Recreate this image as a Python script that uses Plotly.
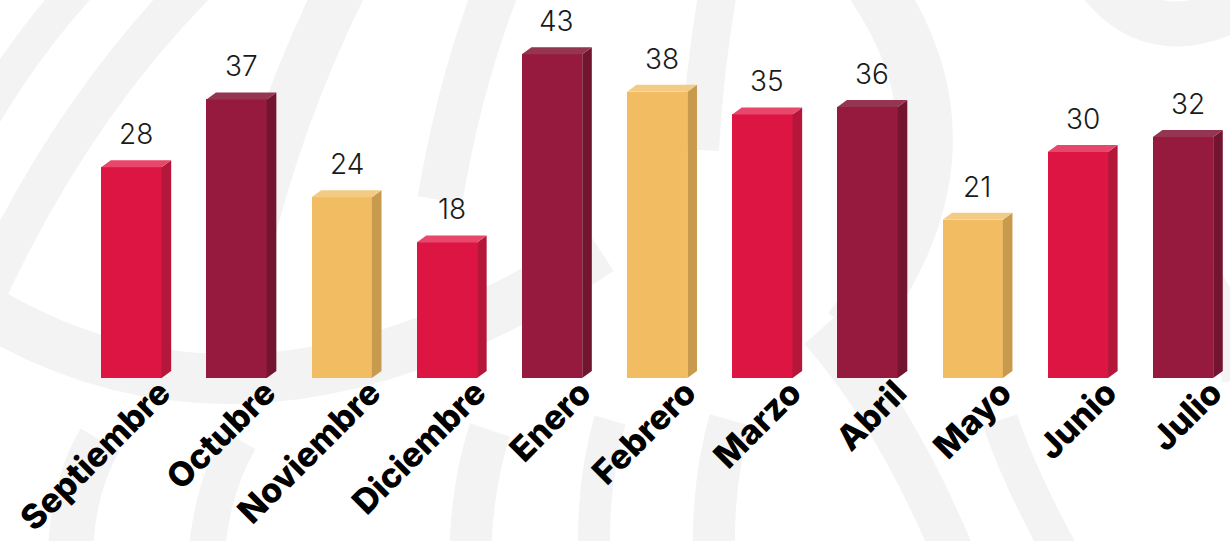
import plotly.graph_objects as go

# ---------------- data ----------------
months = ["Septiembre", "Octubre", "Noviembre", "Diciembre", "Enero", "Febrero",
          "Marzo", "Abril", "Mayo", "Junio", "Julio"]
values = [28, 37, 24, 18, 43, 38, 35, 36, 21, 30, 32]
color_keys = ["red", "maroon", "gold", "red", "maroon", "gold",
              "red", "maroon", "gold", "red", "maroon"]

# ---------------- style ----------------
FRONT = {"red": "#DC1543", "maroon": "#961A3D", "gold": "#F2BC62"}
SIDE = {"red": "#B5173A", "maroon": "#731430", "gold": "#C89A4E"}
TOP = {"red": "#E8466A", "maroon": "#953552", "gold": "#F4CB85"}

W, H = 1230, 541
PLOT_H = 378
PX_PER_CAT = 105.16
PX_PER_UNIT = 7.53
X0_PX = 131.4
BAR_W = 0.574
DX = 9.6 / PX_PER_CAT      # depth offset (category units)
DY = 7.0 / PX_PER_UNIT     # depth offset (value units)

x = list(range(len(months)))

fig = go.Figure()

# front faces
fig.add_trace(go.Bar(
    x=x, y=values, width=BAR_W,
    marker=dict(color=[FRONT[c] for c in color_keys], line=dict(width=0)),
    hoverinfo="skip", showlegend=False,
))

# side + top faces (polygons built from the data through the axes)
for key in ["red", "maroon", "gold"]:
    sx, sy, tx, ty = [], [], [], []
    for xi, v, c in zip(x, values, color_keys):
        if c != key:
            continue
        r = xi + BAR_W / 2
        l = xi - BAR_W / 2
        sx += [r, r + DX, r + DX, r, r, None]
        sy += [0, DY, v + DY, v, 0, None]
        tx += [l, l + DX, r + DX, r, l, None]
        ty += [v, v + DY, v + DY, v, v, None]
    fig.add_trace(go.Scatter(x=sx, y=sy, mode="lines", fill="toself",
                             fillcolor=SIDE[key], line=dict(width=0),
                             hoverinfo="skip", showlegend=False))
    fig.add_trace(go.Scatter(x=tx, y=ty, mode="lines", fill="toself",
                             fillcolor=TOP[key], line=dict(width=0),
                             hoverinfo="skip", showlegend=False))

# value labels
for xi, v in zip(x, values):
    fig.add_annotation(x=xi + DX / 2, y=v, text=str(v), showarrow=False,
                       xanchor="center", yanchor="bottom", yshift=14,
                       font=dict(family="Inter", size=28, color="#1a1a1a", weight=300))

# decorative light-grey background strokes (pixel coords -> paper)
def P(px, py):
    return f"{px / W:.4f},{1 - py / PLOT_H:.4f}"

strokes = [
    (("M", (-30, 140)), ("Q", (20, 50), (85, -20)), 34),
    (("M", (-30, 330)), ("Q", (60, 120), (200, -20)), 40),
    (("M", (230, 330)), ("Q", (260, 150), (345, -20)), 50),
    (("M", (440, 200)), ("Q", (460, 80), (500, -20)), 45),
    (("M", (700, 150)), ("Q", (705, 60), (720, -20)), 38),
    (("M", (850, 330)), ("Q", (990, 150), (870, -20)), 55),
    (("M", (1090, -30)), ("Q", (1150, 60), (1250, 0)), 45),
    (("M", (-30, 300)), ("Q", (250, 480), (600, 250)), 50),
    (("M", (100, 440)), ("Q", (70, 490), (70, 570)), 45),
    (("M", (240, 440)), ("Q", (210, 490), (205, 570)), 36),
    (("M", (490, 430)), ("Q", (470, 490), (470, 570)), 42),
    (("M", (610, 420)), ("Q", (590, 490), (595, 570)), 32),
    (("M", (730, 420)), ("Q", (710, 490), (715, 570)), 42),
    (("M", (820, 330)), ("Q", (900, 420), (960, 570)), 42),
    (("M", (1000, 420)), ("Q", (1020, 480), (1070, 570)), 36),
    (("M", (1180, 250)), ("Q", (1230, 300), (1240, 380)), 36),
]
for m, q, wdt in strokes:
    path = f"M {P(*m[1])} Q {P(*q[1])} {P(*q[2])}"
    fig.add_shape(type="path", path=path, xref="paper", yref="paper",
                  line=dict(color="#F3F3F3", width=wdt), layer="below")

fig.update_layout(
    width=W, height=H,
    margin=dict(l=0, r=0, t=0, b=H - PLOT_H, pad=0, autoexpand=False),
    paper_bgcolor="white", plot_bgcolor="rgba(0,0,0,0)",
    bargap=0, showlegend=False,
    xaxis=dict(
        range=[-X0_PX / PX_PER_CAT, (W - X0_PX) / PX_PER_CAT],
        tickmode="array", tickvals=x, ticktext=months,
        tickangle=-45, showgrid=False, zeroline=False, showline=False,
        ticks="", ticklabelshift=29, ticklabelstandoff=-13,
        ticklabeloverflow="allow", automargin=False,
        tickfont=dict(family="Inter", size=34, color="#000000", weight=800),
        fixedrange=True,
    ),
    yaxis=dict(
        range=[0, PLOT_H / PX_PER_UNIT], visible=False, showgrid=False,
        zeroline=False, fixedrange=True, automargin=False,
    ),
)

fig.write_html("out.html", config={"displayModeBar": False},
               post_script="document.body.style.margin='0';document.body.style.overflow='hidden';")
